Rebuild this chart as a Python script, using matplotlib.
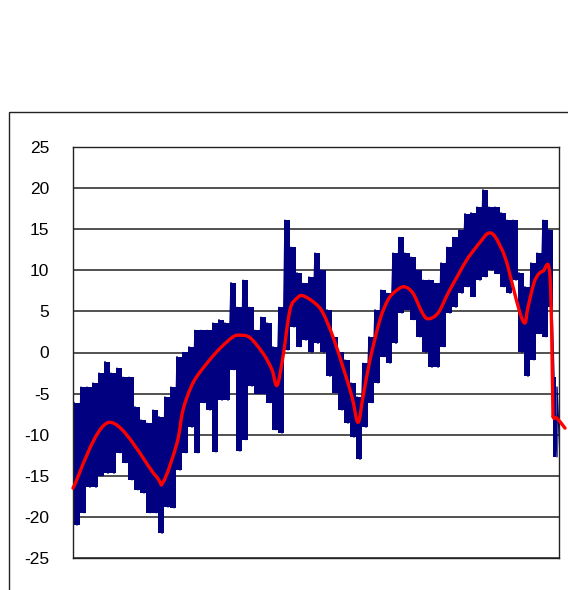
import matplotlib
matplotlib.use("Agg")
import matplotlib.pyplot as plt
from matplotlib.patches import Rectangle, PathPatch
from matplotlib.path import Path

plt.rcParams['axes.unicode_minus'] = False

# ---- data (sample index ~ horizontal position) ----
noise_x = [0, 7, 13, 19, 25, 31, 37, 43, 49, 55, 61, 67, 73, 79, 85, 91, 97, 103,
           109, 115, 121, 127, 133, 139, 145, 151, 157, 163, 169, 175, 181, 187,
           193, 199, 205, 211, 217, 223, 229, 235, 241, 247, 253, 259, 265, 271,
           277, 283, 289, 295, 301, 307, 313, 319, 325, 331, 337, 343, 349, 355,
           361, 367, 373, 379, 385, 391, 397, 403, 409, 415, 421, 427, 433, 439,
           445, 451, 457, 463, 469, 475, 480, 483]
noise_high = [-6.1, -4.2, -4.2, -3.7, -2.5, -1.1, -2.5, -1.9, -3.0, -3.0, -6.6, -8.2, -8.6,
              -7.0, -7.8, -5.4, -4.2, -0.5, 0.0, 0.7, 2.7, 2.7, 2.7, 3.6, 4.0, 3.6, 8.5,
              5.5, 8.8, 5.5, 2.7, 4.3, 3.6, 0.7, 5.5, 16.1, 12.8, 9.7, 8.4, 9.2,
              12.1, 10.0, 5.2, 1.9, 0.0, -0.9, -3.7, -5.4, -1.3, 1.9, 5.2, 7.6, 7.2, 12.1,
              14.0, 12.1, 11.6, 10.0, 8.8, 8.8, 8.4, 10.9, 12.8, 14.0, 14.9, 16.9,
              17.0, 17.7, 19.8, 17.7, 17.7, 17.0, 16.1, 16.1, 9.7, 8.0, 10.9, 12.1, 16.1, 14.9,
              -3.0, -4.2]
noise_low = [-21.0, -19.5, -16.4, -16.4, -15.0, -14.7, -14.7, -12.2, -13.4, -15.5, -16.7, -17.1,
             -19.5, -19.5, -22.0, -18.8, -18.9, -14.3, -12.2, -9.1, -12.2, -6.1, -7.0, -12.1,
             -5.8, -5.8, -2.1, -12.0, -10.6, -4.1, -5.0, -5.0, -6.1, -9.4, -9.8, 0.3, 3.1,
             0.7, 1.5, 0.0, 1.1, 0.0, -2.9, -4.9, -7.0, -8.6, -10.3, -13.0, -9.1, -6.1, -3.7,
             -0.5, -1.3, 1.1, 4.8, 5.2, 4.0, 1.9, 0.0, -1.8, -1.8, 0.7, 4.8, 5.5, 7.2, 8.0,
             6.8, 8.8, 9.2, 10.0, 9.6, 8.0, 7.2, 8.8, 0.0, -2.9, -0.9, 2.3, 1.9, 5.5,
             -12.7, -12.7]

trend_x = [0, 36, 82, 90, 104, 110, 120, 134, 147, 160, 167, 177, 190, 199, 204, 210,
           217, 224, 230, 242, 250, 260, 270, 279, 285, 290, 297, 307, 315, 322, 331,
           340, 349, 355, 365, 375, 385, 395, 407, 415, 422, 432, 440, 447, 452, 455,
           462, 470, 477, 480, 481, 484, 492]
trend_y = [-16.5, -8.5, -14.9, -15.8, -11.0, -7.0, -3.7, -1.3, 0.5, 1.9, 2.1, 1.8, -0.1,
           -2.1, -4.0, -0.5, 5.2, 6.6, 6.9, 6.0, 4.8, 1.9, -1.8, -5.4, -8.5, -5.4, -0.9,
           4.0, 6.4, 7.4, 8.0, 7.2, 4.9, 4.1, 4.8, 7.2, 9.4, 11.5, 13.4, 14.5, 14.1, 11.6,
           8.0, 4.8, 3.6, 5.5, 8.8, 9.9, 9.2, -7.8, -8.0, -8.0, -9.2]

y_ticks = [-25, -20, -15, -10, -5, 0, 5, 10, 15, 20, 25]


def smooth_path(xs, ys):
    """Excel-like smoothed line: Bezier segments through the given points."""
    pts = list(zip(xs, ys))
    verts = [pts[0]]
    codes = [Path.MOVETO]
    n = len(pts)
    for i in range(n - 1):
        p0 = pts[i - 1] if i > 0 else pts[i]
        p1 = pts[i]
        p2 = pts[i + 1]
        p3 = pts[i + 2] if i + 2 < n else pts[i + 1]
        c1 = (p1[0] + (p2[0] - p0[0]) / 6, p1[1] + (p2[1] - p0[1]) / 6)
        c2 = (p2[0] - (p3[0] - p1[0]) / 6, p2[1] - (p3[1] - p1[1]) / 6)
        verts += [c1, c2, p2]
        codes += [Path.CURVE4] * 3
    return Path(verts, codes)


W, H = 568, 590
fig = plt.figure(figsize=(W / 100, H / 100), dpi=100)

# outer chart frame (cropped by the image edges)
fig.patches.append(Rectangle((9 / W, -0.2), 2.0, (1 - 112 / H) + 0.2,
                             transform=fig.transFigure, fill=False,
                             edgecolor='#222222', linewidth=1.0))

ax = fig.add_axes([73 / W, 1 - 558 / H, (559 - 73) / W, 411 / H])
ax.set_xlim(0, 486)
ax.set_ylim(-25, 25)
ax.set_yticks(y_ticks)
ax.set_yticklabels([str(t) for t in y_ticks], fontfamily='Liberation Sans', fontsize=12.5)
ax.set_xticks([])
ax.tick_params(axis='y', length=0, pad=17)
for t in y_ticks:
    ax.axhline(t, color='#222222', linewidth=1.1, zorder=1)
for s in ax.spines.values():
    s.set_color('#222222')
    s.set_linewidth(1.0)

navy = '#000080'
# dense noisy series: filled range of each slice + thin spikes
ax.fill_between(noise_x, noise_low, noise_high, step='post', color=navy,
                linewidth=0, zorder=2)
zx, zy = [], []
for x, hi, lo in zip(noise_x, noise_high, noise_low):
    zx += [x + 1, x + 4]
    zy += [hi, lo]
ax.plot(zx, zy, color=navy, linewidth=1.0, zorder=2)

# smoothed red line (break at the vertical drop)
k = trend_x.index(480)
for xs, ys in [(trend_x[:k + 1], trend_y[:k + 1]),
               (trend_x[k:k + 2], trend_y[k:k + 2]),
               (trend_x[k + 1:], trend_y[k + 1:])]:
    ax.add_patch(PathPatch(smooth_path(xs, ys), fill=False, edgecolor='#ff0000',
                           linewidth=2.4, zorder=3, clip_on=False,
                           joinstyle='round', capstyle='round'))

fig.savefig('out.png', dpi=100)
